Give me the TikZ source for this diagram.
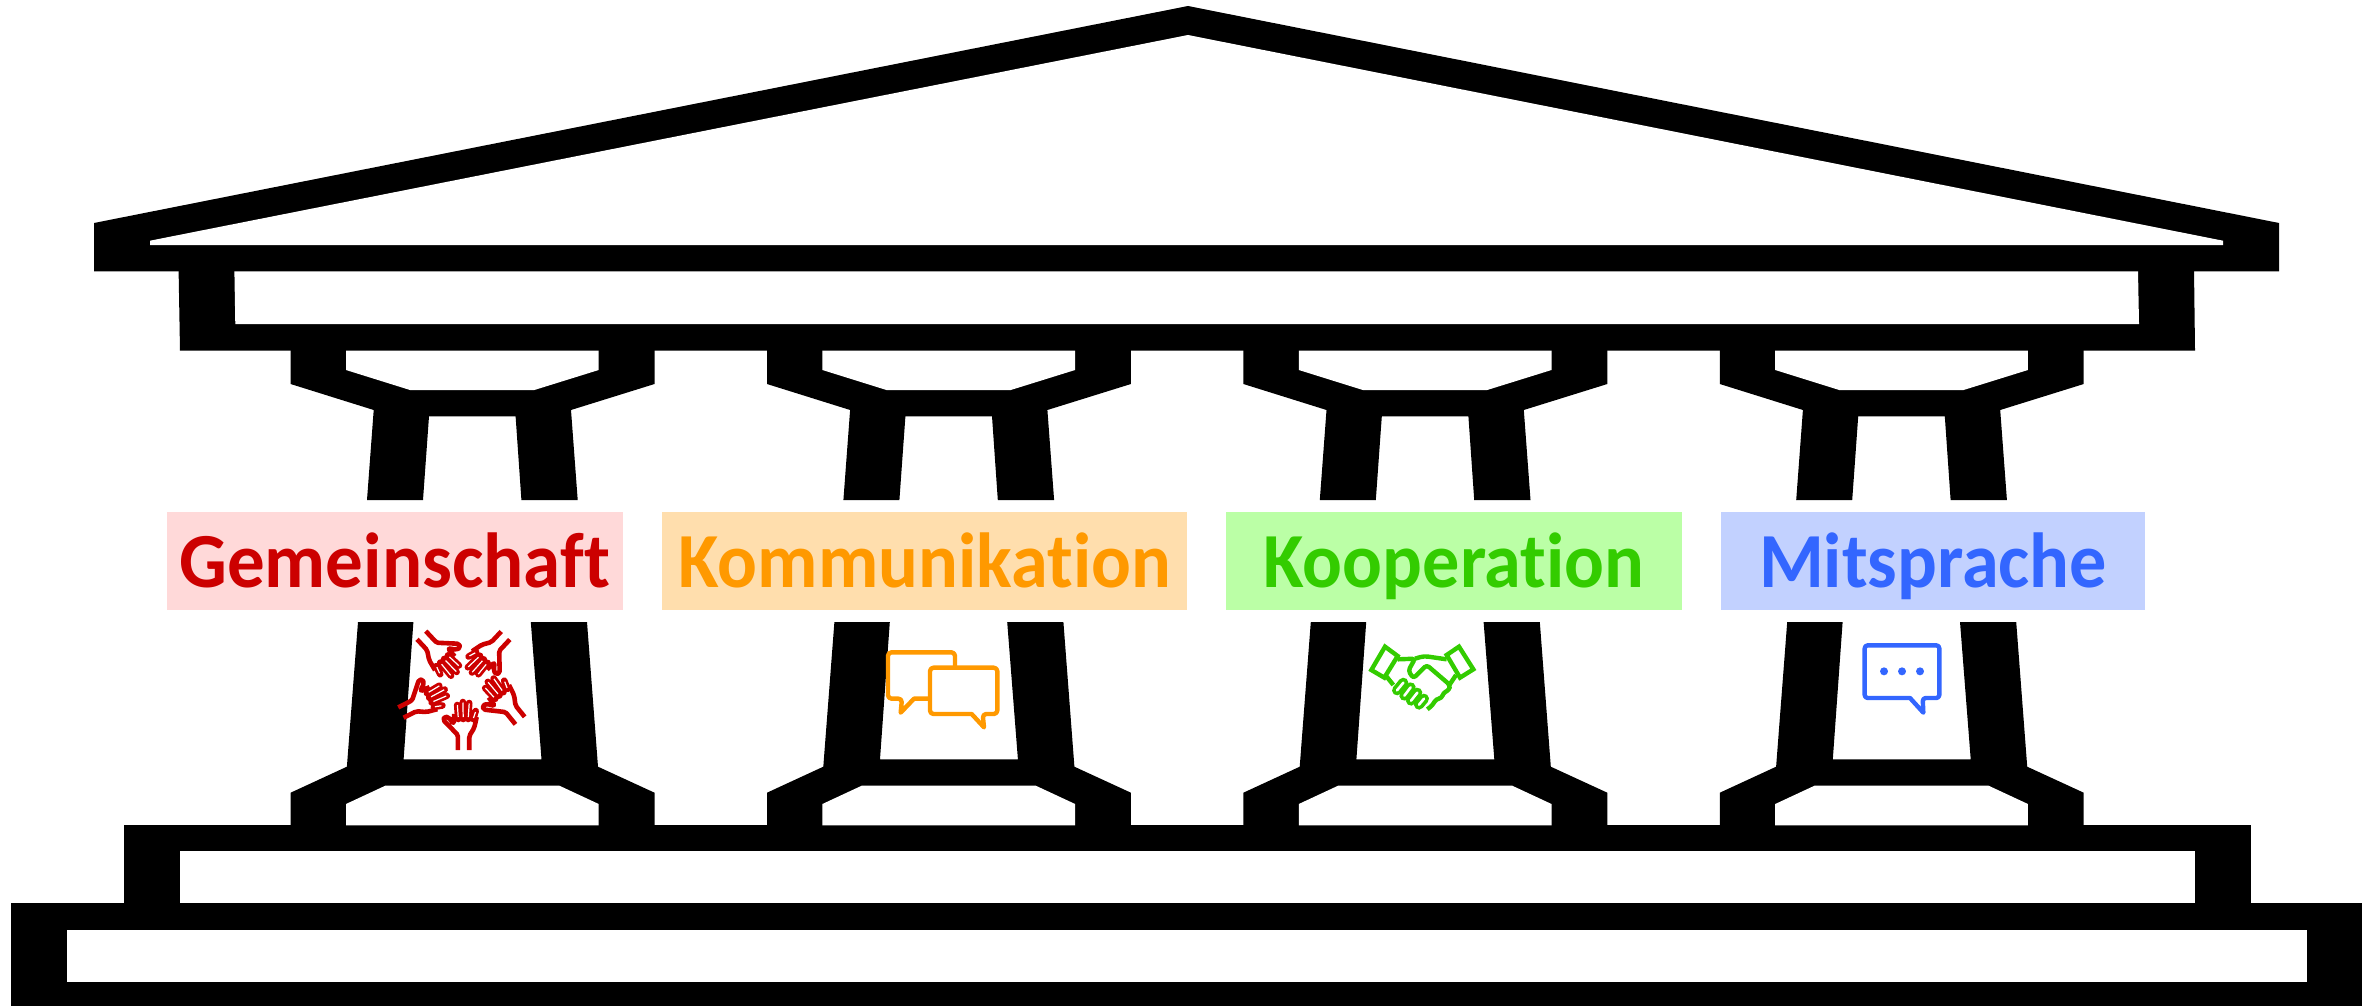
\documentclass[tikz,border=0pt]{standalone}
\usepackage{fontspec}
\usepackage{graphicx}
\setmainfont{Carlito}[RawFeature={-liga;-clig;-dlig}]
\definecolor{cRed}{HTML}{CC0000}\definecolor{bRed}{HTML}{FFD9D9}
\definecolor{cOra}{HTML}{FF9900}\definecolor{bOra}{HTML}{FFDEAD}
\definecolor{cGre}{HTML}{33CC00}\definecolor{bGre}{HTML}{BBFFA6}
\definecolor{cBlu}{HTML}{3366FF}\definecolor{bBlu}{HTML}{C2D1FF}
\newcommand{\tall}[2][1]{\scalebox{#1}[1.04]{#2}}
\tikzset{
  solid black/.style={fill=black,draw=none},
  hole/.style={fill=white,draw=none},
  label box/.style={inner xsep=0pt,inner ysep=0pt,text height=75pt,text depth=23pt,align=center,
    font=\fontsize{75}{80}\selectfont\bfseries},
  icon/.style={line width=4.4pt,line join=round,fill=none},
  handpic/.pic={
    \draw[cRed,line width=4.6pt,line join=round,rounded corners=1.6pt]
      (-5.8,0)--(-5.8,-15)--(-20.5,-30)--(-19,-33.5)--(-15,-32.5)--(-10,-26)--(-9.5,-36);
    \draw[cRed,line width=4.6pt,line join=round,rounded corners=2pt]
      (13,-33)--(10.5,-22)--(5.5,-14)--(5.5,0);
    \draw[cRed,line width=6.6pt,line cap=round]
      (-5.5,-31)--(-6.5,-45) (-0.5,-31)--(-0.8,-48) (4.5,-31)--(5.5,-47) (9.5,-31)--(12,-39);
    \draw[white,line width=1.2pt]
      (-5.5,-33)--(-6.3,-45) (-0.5,-33)--(-0.8,-47.5) (4.6,-33)--(5.5,-46.5) (9.8,-32)--(11.8,-38);
  }
}
\begin{document}
\begin{tikzpicture}[x=1pt,y=-1pt]
\useasboundingbox (0,0) rectangle (2376,1006);
% roof
\fill[solid black] (94,223)--(1188,6)--(2279,223)--(2279,271.3)--(94,271.3)--cycle;
\fill[hole] (150,240.7)--(1188,35)--(2223,240.7)--(2223,245)--(150,245)--cycle;
% entablature
\fill[solid black] (178.6,270)--(2194,270)--(2195,350.7)--(180,350.7)--cycle;
\fill[hole] (234.4,271.3)--(2138,271.3)--(2139,324)--(235.3,324)--cycle;
% base
\fill[solid black] (123.7,825.3)--(2251,825.3)--(2251,905)--(123.7,905)--cycle;
\fill[hole] (179.5,851.3)--(2195,851.3)--(2195,903.3)--(179.5,903.3)--cycle;
\fill[solid black] (11.2,903.3)--(2362,903.3)--(2362,1006)--(11.2,1006)--cycle;
\fill[hole] (67.4,930)--(2307,930)--(2307,982.3)--(67.4,982.3)--cycle;
% columns
\foreach \dx in {0,476.4,952.8,1429.2}{
  \begin{scope}[shift={(\dx,0)}]
    \fill[solid black] (290.6,349)--(290.6,384)--(373.7,410)--(367,500)--(423,500)--(429,416.3)
      --(515.6,416.3)--(521.4,500)--(577.7,500)--(571,410)--(654.5,384)--(654.5,349)--cycle;
    \fill[hole] (346,350.7)--(346,370)--(410,390)--(534.4,390)--(598.7,370)--(598.7,350.7)--cycle;
    \fill[solid black] (358,622)--(413.4,622)--(403.6,759.3)--(541.5,759.3)--(530.8,622)--(587,622)
      --(598,766.7)--(654.5,792.7)--(654.5,827)--(290.6,827)--(290.6,792.7)--(346.9,766.7)--cycle;
    \fill[hole] (346,825.3)--(346,804)--(385.3,785.7)--(559.4,785.7)--(598.7,804)--(598.7,825.3)--cycle;
  \end{scope}
}
% labels
\node[label box,fill=bRed,text=cRed,minimum width=456pt] (gem) at (394.8,561) {\tall{Gemeinschaft}};
\node[label box,fill=bOra,text=cOra,minimum width=525.5pt] (kom) at (924.7,561) {\tall[0.99]{Kommunikation}};
\node[label box,fill=bGre,text=cGre,minimum width=456pt] (koo) at (1454,561) {\tall[0.99]{Kooperation}};
\node[label box,fill=bBlu,text=cBlu,minimum width=424pt] (mit) at (1933,561) {\tall[0.99]{Mitsprache}};
% hands icon
\pic[rotate=0] at (463.7,750) {handpic};
\pic[rotate=39,scale=1.05] at (520.2,720.5) {handpic};
\pic[rotate=137,scale=1.04] at (505.4,635.4) {handpic};
\pic[rotate=-137,scale=1.06] at (421.3,635.3) {handpic};
\pic[rotate=-63,scale=1.03] at (401,712.7) {handpic};
% speech bubbles icon
\begin{scope}[shift={(860,620)},scale=1/3]
  \draw[icon,cOra,rounded corners=3.5pt] (285,143)--(285,97)--(84,97)--(84,236)--(126,236)[sharp corners]--(122,278)--(162,236)--(210,236);
  \draw[icon,cOra,rounded corners=3.5pt] (210,143)--(412,143)--(412,282)--(368,282)[sharp corners]--(372,322)--(335,282)[rounded corners=3.5pt]--(210,282)--cycle;
\end{scope}
% handshake icon
\begin{scope}[shift={(1350,630)},scale=1/3]
  \draw[line width=10pt,cGre,line cap=round] (160,158)--(141,181) (182,172)--(163,197) (202,188)--(183,212) (222,206)--(207,224);
  \draw[line width=2.6pt,white,line cap=round] (160,158)--(141,181) (182,172)--(163,197) (202,188)--(183,212) (222,206)--(207,224);
  \draw[icon,cGre,line join=miter] (105,50)--(143,78)--(103,143)--(64,120)--cycle;
  \draw[icon,cGre,line join=miter] (327,50)--(370,118)--(330,143)--(290,75)--cycle;
  \draw[icon,cGre] (110,140)--(130,165);
  \draw[icon,cGre,rounded corners=3pt] (143,88)--(195,86)--(175,122)--(190,145)--(230,105)--(300,165)--(298,180)--(280,188)--(275,205)--(258,207)--(248,225)--(232,238);
  \draw[icon,cGre,rounded corners=4pt] (195,86)--(222,78)--(290,88);
  \draw[icon,cGre] (318,135)--(298,165);
\end{scope}
% chat icon
\begin{scope}[shift={(1840,630)},scale=1/3]
  \draw[icon,cBlu,rounded corners=3pt] (74,46)--(298,46)--(298,204)--(248,204)[sharp corners]--(250,248)--(210,204)[rounded corners=3pt]--(74,204)--cycle;
  \fill[cBlu] (132,124) circle[radius=12pt] (186,124) circle[radius=12pt] (240,124) circle[radius=12pt];
\end{scope}
\end{tikzpicture}
\end{document}
